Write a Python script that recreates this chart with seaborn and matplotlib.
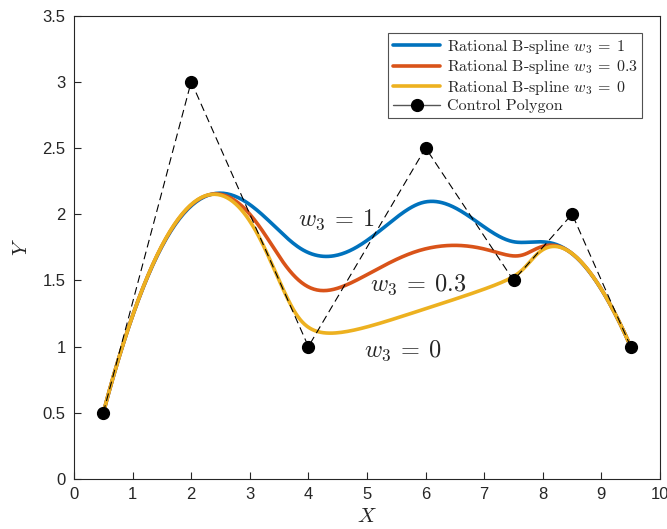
import numpy as np
import pandas as pd
import matplotlib
matplotlib.use("Agg")
import matplotlib.pyplot as plt
from matplotlib.lines import Line2D
import seaborn as sns

# Control polygon
ctrl_x = [0.5, 2.0, 4.0, 6.0, 7.5, 8.5, 9.5]
ctrl_y = [0.5, 3.0, 1.0, 2.5, 1.5, 2.0, 1.0]
# Weight of control point index 3 for each curve
w3_values = [1.0, 0.3, 0.0]
curve_labels = [r"Rational B-spline $w_3\:=\:1$",
                r"Rational B-spline $w_3\:=\:0.3$",
                r"Rational B-spline $w_3\:=\:0$"]
curve_colors = ["#0072BD", "#D95319", "#EDB120"]
degree = 3


def bspline_basis(i, k, t, knots):
    if k == 0:
        if knots[i] <= t < knots[i + 1]:
            return 1.0
        if t == knots[-1] and knots[i] < knots[i + 1] == knots[-1]:
            return 1.0
        return 0.0
    a = 0.0
    d1 = knots[i + k] - knots[i]
    if d1 > 0:
        a = (t - knots[i]) / d1 * bspline_basis(i, k - 1, t, knots)
    b = 0.0
    d2 = knots[i + k + 1] - knots[i + 1]
    if d2 > 0:
        b = (knots[i + k + 1] - t) / d2 * bspline_basis(i + 1, k - 1, t, knots)
    return a + b


def rational_bspline(px, py, weights, p, n_samples=400):
    n = len(px)
    inner = list(np.linspace(0, 1, n - p + 1))
    knots = [0.0] * p + inner + [1.0] * p
    ts = np.linspace(0, 1, n_samples)
    xs, ys = [], []
    for t in ts:
        N = np.array([bspline_basis(i, p, t, knots) for i in range(n)])
        wN = N * np.asarray(weights)
        s = wN.sum()
        xs.append(np.dot(wN, px) / s)
        ys.append(np.dot(wN, py) / s)
    return np.array(xs), np.array(ys)


frames = []
for w3, lab in zip(w3_values, curve_labels):
    w = [1.0] * len(ctrl_x)
    w[3] = w3
    cx, cy = rational_bspline(ctrl_x, ctrl_y, w, degree)
    frames.append(pd.DataFrame({"x": cx, "y": cy, "curve": lab}))
curves = pd.concat(frames, ignore_index=True)

sns.set_theme(style="white")
plt.rcParams["mathtext.fontset"] = "cm"
plt.rcParams["font.family"] = ["Liberation Sans", "DejaVu Sans"]

fig = plt.figure(figsize=(6.67, 5.29), dpi=100)
ax = fig.add_axes([74 / 667, 1 - 479 / 529, (660 - 74) / 667, (479 - 15.5) / 529])

for lab, col in zip(curve_labels, curve_colors):
    sub = curves[curves["curve"] == lab]
    sns.lineplot(x=sub["x"].to_numpy(), y=sub["y"].to_numpy(), sort=False,
                 estimator=None, color=col, linewidth=2.6, ax=ax, label=lab)

sns.lineplot(x=ctrl_x, y=ctrl_y, sort=False, estimator=None, color="black",
             linewidth=0.8, ax=ax, label="Control Polygon")
ax.lines[-1].set_linestyle((0, (7, 4)))
ax.plot(ctrl_x, ctrl_y, "o", color="black", markersize=8.5, zorder=5)

ax.set_xlim(0, 10)
ax.set_ylim(0, 3.5)
ax.set_xticks(range(0, 11))
ax.set_yticks(np.arange(0, 3.51, 0.5))
ax.set_xticklabels([str(v) for v in range(0, 11)])
ax.set_yticklabels(["0", "0.5", "1", "1.5", "2", "2.5", "3", "3.5"])
ax.tick_params(direction="in", length=5, width=0.8, colors="#262626",
               labelsize=12, top=False, right=False, bottom=True, left=True)
ax.tick_params(axis="x", pad=6)
ax.tick_params(axis="y", pad=6)
for s in ax.spines.values():
    s.set_color("#262626")
    s.set_linewidth(0.8)
    s.set_visible(True)

ax.set_xlabel(r"$X$", fontsize=15, labelpad=3)
ax.set_ylabel(r"$Y$", fontsize=15, labelpad=8)

ax.text(3.82, 1.96, r"$w_3\:=\:1$", fontsize=17.5, va="center", ha="left")
ax.text(5.05, 1.47, r"$w_3\:=\:0.3$", fontsize=17.5, va="center", ha="left")
ax.text(4.95, 0.97, r"$w_3\:=\:0$", fontsize=17.5, va="center", ha="left")

handles, labels = ax.get_legend_handles_labels()
handles[-1] = Line2D([], [], color="#555555", linewidth=1.0, marker="o",
                     markersize=8.5, markerfacecolor="black",
                     markeredgecolor="black")
leg = ax.legend(handles, labels, loc="upper right",
                prop={"family": "cmr10", "size": 11.5},
                frameon=True, fancybox=False, edgecolor="#262626",
                borderpad=0.3, labelspacing=0.15, handlelength=3.0,
                handletextpad=0.4, borderaxespad=1.1)
leg.get_frame().set_linewidth(0.8)

fig.savefig("out.png", dpi=100)
